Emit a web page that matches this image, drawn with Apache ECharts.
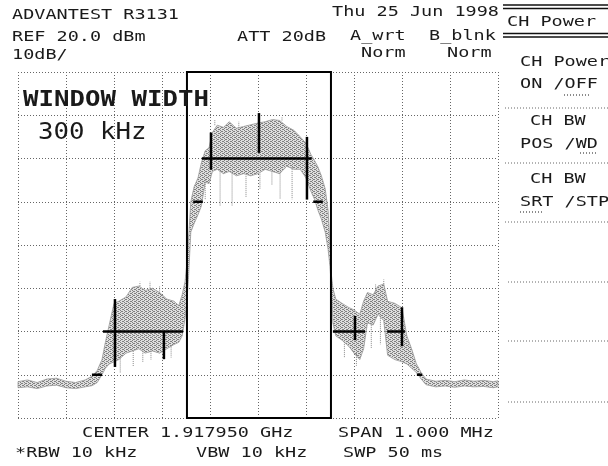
<!DOCTYPE html>
<html>
<head>
<meta charset="utf-8">
<script src="https://cdn.jsdelivr.net/npm/echarts@6/dist/echarts.min.js"></script>
<style>html,body{margin:0;padding:0;background:#fff}#c{width:608px;height:466px}</style>
</head>
<body>
<div id="c"></div>
<script>
// ---- data (offset from centre in kHz, level in dBm) ----
const freqKHz = [-500,-480,-460,-440,-420,-400,-380,-360,-345,-335,-325,-318,-310,-300,-290,-275,-262,-248,-235,-220,-205,-190,-175,-165,-158,-152,-148,-145,-140,-133,-125,-118,-110,-102,-95,-85,-72,-60,-45,-30,-15,0,15,30,45,60,75,88,100,110,118,125,132,140,146,150,153,156,162,175,190,200,212,220,228,240,250,262,270,285,300,310,320,330,340,350,370,390,410,430,450,470,490,500];
const traceUpper = [-51.6,-51.2,-51.8,-51.0,-50.8,-51.5,-51.8,-51.2,-50.3,-49.0,-46.5,-42.5,-38.5,-33.5,-33.0,-32.0,-29.8,-29.5,-30.5,-30.0,-31.0,-32.5,-33.0,-34.0,-31.5,-28.5,-24.0,-19.0,-10.0,-6.5,-4.5,-1.0,1.8,2.5,6.0,7.7,7.2,8.5,7.0,7.4,7.8,8.2,8.5,9.0,8.8,7.4,6.5,5.0,3.5,1.0,-0.5,-2.0,-4.0,-7.0,-12.0,-20.0,-27.0,-30.0,-32.5,-33.5,-34.5,-35.0,-36.0,-33.0,-31.0,-31.5,-29.5,-29.0,-33.0,-33.5,-34.5,-41.0,-44.0,-47.5,-49.5,-51.0,-51.5,-51.3,-51.6,-51.2,-51.5,-51.3,-51.6,-51.4];
const traceLower = [-53.0,-52.8,-53.2,-52.6,-52.4,-53.0,-53.2,-52.8,-52.5,-51.8,-50.0,-48.5,-47.5,-47.0,-46.5,-45.0,-44.5,-44.0,-45.0,-44.5,-45.0,-44.0,-43.0,-42.5,-41.0,-37.0,-33.0,-28.0,-17.0,-15.0,-13.0,-11.0,-5.5,-5.8,-3.0,-2.5,-3.5,-3.0,-4.0,-3.5,-4.0,-3.5,-2.5,-3.0,-3.5,-1.8,-2.5,-2.5,-4.5,-7.5,-9.5,-12.0,-14.0,-17.0,-21.0,-25.0,-30.0,-38.0,-41.0,-42.0,-43.5,-45.0,-46.5,-44.0,-38.0,-38.5,-36.0,-37.5,-45.5,-46.5,-47.0,-47.5,-48.5,-49.5,-51.0,-52.3,-52.8,-52.6,-52.9,-52.6,-52.8,-52.7,-53.0,-52.8];

const spikeFreq   = [-110,-79,-54,-25,4,29,46,71,-90,50,-40,-287,-260,-240,-223,-181,-246,-225,-205,180,205,236,255,245,262];
const spikeTop    = [-5,-3,-3,-4,-3.5,-3,-3,-2,7.7,8.8,7,-46,-44.5,-44,-44,-43.5,-29.5,-30,-31,-42,-45,-38,-36,-31,-29];
const spikeBottom = [-9.5,-11,-11,-9,-7,-6,-9.5,-9.5,9,9.7,8.5,-49.5,-48,-47,-46.5,-46,-28.5,-28.5,-29.5,-46,-48,-44,-43,-29,-28];

const markHStart = [-346,-323,-135,-117,115,156,269,331];
const markHEnd   = [-325,-156,-115,112,135,223,306,342];
const markHLevel = [-50,-40,-10,0,-10,-40,-40,-50];
const markVFreq   = [-298,-196,-98,2,102,202,300];
const markVTop    = [-32.5,-40,6,10.5,5,-36.4,-34.4];
const markVBottom = [-48.2,-46.4,-2.6,1.3,-9.5,-42,-43.4];

const windowStart = -148, windowEnd = 152;
const xMin = -500, xMax = 500, xStep = 100;
const yMin = -60, yMax = 20, yStep = 10;

const headerLeft  = ['ADVANTEST R3131','REF 20.0 dBm','10dB/'];
const headerRight = ['Thu 25 Jun 1998','ATT 20dB','A_wrt','B_blnk','Norm','Norm'];
const footer = ['CENTER 1.917950 GHz','SPAN 1.000 MHz','*RBW 10 kHz','VBW 10 kHz','SWP 50 ms'];
const menuTitle = 'CH Power';
const menuItems = [['CH Power','ON /OFF'],['CH BW','POS /WD'],['CH BW','SRT /STP']];
const annot = ['WINDOW WIDTH','300 kHz'];

// ---- build ----
const pc = document.createElement('canvas'); pc.width = 4; pc.height = 4;
const pctx = pc.getContext('2d');
pctx.fillStyle = '#dedede'; pctx.fillRect(0,0,4,4);
pctx.fillStyle = '#808080';
[[0,0],[0,2],[2,1],[2,3],[1,3],[3,1]].forEach(p => pctx.fillRect(p[0],p[1],1,1));
const pattern = {image: pc, repeat: 'repeat'};

const segData = [];
markHStart.forEach((s,i)=>segData.push([s, markHLevel[i], markHEnd[i], markHLevel[i]]));
markVFreq.forEach((f,i)=>segData.push([f, markVTop[i], f, markVBottom[i]]));
const spikeData = spikeFreq.map((f,i)=>[f, spikeTop[i], f, spikeBottom[i]]);

const FONT = '"DejaVu Sans Mono", "Liberation Mono", monospace';
const SX = 1.32;
function txt(s, x, y, opts) {
  opts = opts || {};
  return {type:'text', x:x, y:y, scaleX: opts.sx || SX, z: 100,
    style:{text:s, font:(opts.weight||'normal') + ' ' + (opts.size||14) + 'px ' + FONT, fill:'#1a1a1a', verticalAlign:'middle', align:'left'}};
}
function hline(x1, x2, y, dash, w) {
  return {type:'line', z: 100, shape:{x1:x1, y1:y, x2:x2, y2:y}, style:{stroke: dash ? '#666' : '#111', lineWidth: w || 1, lineDash: dash ? [1,2] : null}};
}

const graphics = [
  txt(headerLeft[0], 12, 15), txt(headerLeft[1], 12, 37), txt(headerLeft[2], 12, 55),
  txt(headerRight[0], 332, 12), txt(headerRight[1], 237, 37), txt(headerRight[2], 350, 36),
  txt(headerRight[3], 429, 36), txt(headerRight[4], 361, 53), txt(headerRight[5], 447, 53),
  txt(footer[0], 82, 433), txt(footer[1], 338, 433), txt(footer[2], 15, 453),
  txt(footer[3], 196, 453), txt(footer[4], 343, 453),
  txt(annot[0], 23, 100, {size:22, weight:'bold', sx:1.17}),
  txt(annot[1], 38, 133, {size:23, sx:1.12}),
  hline(503, 608, 5, false, 1.5), hline(503, 608, 8.5, false, 1.5),
  txt(menuTitle, 507, 22),
  hline(503, 608, 33.5, false, 1.5), hline(503, 608, 37, false, 1.5),
  txt(menuItems[0][0], 520, 62), txt(menuItems[0][1], 520, 84),
  hline(564, 590, 95, true, 1.5),
  hline(505, 608, 108, true),
  txt(menuItems[1][0], 530, 121), txt(menuItems[1][1], 520, 144),
  hline(580, 598, 153, true, 1.5),
  hline(505, 608, 163, true),
  txt(menuItems[2][0], 530, 179), txt(menuItems[2][1], 520, 202),
  hline(520, 544, 212, true, 1.5),
  hline(505, 608, 222, true),
  hline(508, 608, 282, true), hline(508, 608, 341, true), hline(508, 608, 402, true)
];

const chart = echarts.init(document.getElementById('c'), null, {renderer:'canvas'});
const splitStyle = {show:true, showMinLine:true, showMaxLine:true, lineStyle:{color:'#666', width:1, type:[1,2]}};
chart.setOption({
  animation: false,
  backgroundColor: '#fff',
  grid: {left:18, top:72, right:110, bottom:48, show:false},
  xAxis: {type:'value', min:xMin, max:xMax, interval:xStep, axisLabel:{show:false}, axisTick:{show:false}, axisLine:{show:false}, splitLine:splitStyle},
  yAxis: {type:'value', min:yMin, max:yMax, interval:yStep, axisLabel:{show:false}, axisTick:{show:false}, axisLine:{show:false}, splitLine:splitStyle},
  graphic: graphics,
  series: [
    {
      type:'custom', z:2, silent:true,
      data:[[xMin, yMin]],
      renderItem: function(params, api) {
        const pts = [];
        for (let i = 0; i < freqKHz.length; i++) pts.push(api.coord([freqKHz[i], traceUpper[i]]));
        for (let i = freqKHz.length - 1; i >= 0; i--) pts.push(api.coord([freqKHz[i], traceLower[i]]));
        return {type:'polygon', shape:{points:pts}, style:{fill:pattern, stroke:'#999', lineWidth:0.8}};
      }
    },
    {
      type:'custom', z:3, silent:true,
      encode:{x:[0,2], y:[1,3]},
      data: spikeData,
      renderItem: function(params, api) {
        const a = api.coord([api.value(0), api.value(1)]);
        const b = api.coord([api.value(2), api.value(3)]);
        return {type:'line', shape:{x1:a[0], y1:a[1], x2:b[0], y2:b[1]}, style:{stroke:'#888', lineWidth:1, lineDash:[1,1]}};
      }
    },
    {
      type:'custom', z:4, silent:true,
      encode:{x:[0,2], y:[1,3]},
      data: segData,
      renderItem: function(params, api) {
        const a = api.coord([api.value(0), api.value(1)]);
        const b = api.coord([api.value(2), api.value(3)]);
        return {type:'line', shape:{x1:a[0], y1:a[1], x2:b[0], y2:b[1]}, style:{stroke:'#000', lineWidth:2.5}};
      }
    },
    {
      type:'custom', z:5, silent:true,
      encode:{x:[0,2], y:[1,3]},
      data:[[windowStart, yMax, windowEnd, yMin]],
      renderItem: function(params, api) {
        const a = api.coord([api.value(0), api.value(1)]);
        const b = api.coord([api.value(2), api.value(3)]);
        return {type:'rect', shape:{x:a[0], y:a[1], width:b[0]-a[0], height:b[1]-a[1]}, style:{fill:'none', stroke:'#000', lineWidth:2}};
      }
    }
  ]
});
</script>
</body>
</html>
